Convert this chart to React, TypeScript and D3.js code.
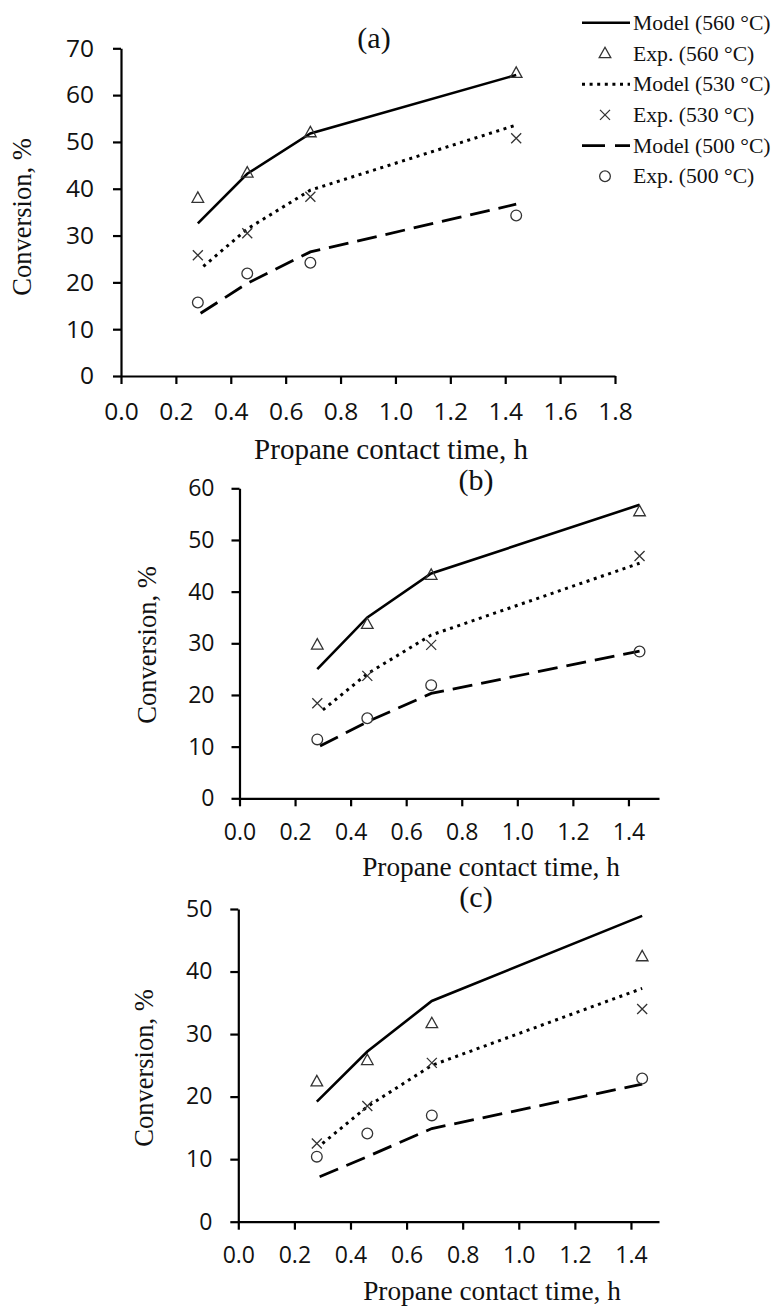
import React, { useEffect, useRef } from "react";
import * as d3 from "d3";

// contact times (h)
const expTimes = [0.28, 0.46, 0.69, 1.44];
const modelTimes560 = [0.28, 0.46, 0.69, 1.44];
const modelTimes530 = [0.3, 0.46, 0.69, 1.44];
const modelTimes500 = [0.29, 0.46, 0.69, 1.44];

// panel (a)
const model560a = [32.6, 43.2, 51.8, 64.3];
const exp560a = [38.0, 43.4, 52.0, 64.7];
const model530a = [23.4, 31.4, 39.7, 53.6];
const exp530a = [25.8, 30.5, 38.3, 50.8];
const model500a = [13.4, 19.8, 26.5, 36.7];
const exp500a = [15.7, 21.9, 24.2, 34.3];

// panel (b)
const model560b = [25.0, 35.0, 43.5, 56.8];
const exp560b = [29.7, 33.7, 43.2, 55.5];
const model530b = [17.1, 24.1, 31.6, 45.5];
const exp530b = [18.4, 23.7, 29.7, 46.9];
const model500b = [10.1, 14.8, 20.3, 28.5];
const exp500b = [11.4, 15.5, 21.9, 28.4];

// panel (c)
const model560c = [19.2, 27.2, 35.3, 48.9];
const exp560c = [22.4, 25.8, 31.7, 42.4];
const model530c = [12.5, 18.4, 25.0, 37.3];
const exp530c = [12.5, 18.5, 25.4, 34.0];
const model500c = [7.2, 10.4, 14.9, 22.0];
const exp500c = [10.4, 14.1, 17.0, 22.9];

// ticks
const xTicksA = [0, 0.2, 0.4, 0.6, 0.8, 1.0, 1.2, 1.4, 1.6, 1.8];
const xTicksBC = [0, 0.2, 0.4, 0.6, 0.8, 1.0, 1.2, 1.4];
const yTicksA = [0, 10, 20, 30, 40, 50, 60, 70];
const yTicksB = [0, 10, 20, 30, 40, 50, 60];
const yTicksC = [0, 10, 20, 30, 40, 50];

const panelLabels = ["(a)", "(b)", "(c)"];
const xTitle = "Propane contact time, h";
const yTitle = "Conversion, %";
const legendLabels = [
  "Model (560 °C)",
  "Exp. (560 °C)",
  "Model (530 °C)",
  "Exp. (530 °C)",
  "Model (500 °C)",
  "Exp. (500 °C)",
];

const SERIF = "'Liberation Serif', 'Times New Roman', serif";
const SANS = "'Open Sans', 'Noto Sans', sans-serif";

const lineStyles: Record<string, { w: number; dash: string | null }> = {
  solid: { w: 2.6, dash: null },
  dot: { w: 3, dash: "3 4.6" },
  dash: { w: 2.8, dash: "20 9" },
};

const markerPath = (kind: string) => {
  if (kind === "tri") return "M0,-6.2L5.8,4.2L-5.8,4.2Z";
  if (kind === "x") return "M-5,-5L5,5M-5,5L5,-5";
  return d3.symbol(d3.symbolCircle, 90)() as string;
};

const panels = [
  {
    label: 0, left: 121, right: 615, top: 48.3, bottom: 376, xMax: 1.8, yMax: 70,
    xTicks: xTicksA, yTicks: yTicksA, tickFont: 24.5, xPad: 19, yPad: 19,
    titleFont: 29, xTitleX: 391, xTitleY: 459, yTitleX: 23, yTitleY: 217,
    labelX: 374, labelY: 48,
    series: [
      [modelTimes560, model560a, exp560a],
      [modelTimes530, model530a, exp530a],
      [modelTimes500, model500a, exp500a],
    ],
  },
  {
    label: 1, left: 239.5, right: 659, top: 488.3, bottom: 798.3, xMax: 1.51, yMax: 60,
    xTicks: xTicksBC, yTicks: yTicksB, tickFont: 23, xPad: 17, yPad: 17,
    titleFont: 27.3, xTitleX: 491, xTitleY: 876, yTitleX: 148, yTitleY: 645,
    labelX: 476, labelY: 490,
    series: [
      [modelTimes560, model560b, exp560b],
      [modelTimes530, model530b, exp530b],
      [modelTimes500, model500b, exp500b],
    ],
  },
  {
    label: 2, left: 238.3, right: 659, top: 909, bottom: 1221.7, xMax: 1.5, yMax: 50,
    xTicks: xTicksBC, yTicks: yTicksC, tickFont: 23, xPad: 17, yPad: 18,
    titleFont: 27.3, xTitleX: 492, xTitleY: 1300, yTitleX: 145, yTitleY: 1068,
    labelX: 476, labelY: 907,
    series: [
      [modelTimes560, model560c, exp560c],
      [modelTimes530, model530c, exp530c],
      [modelTimes500, model500c, exp500c],
    ],
  },
];

const seriesLine = ["solid", "dot", "dash"];
const seriesMarker = ["tri", "x", "circle"];

export default function App() {
  const svgRef = useRef<SVGSVGElement>(null);

  useEffect(() => {
    const svg = d3.select(svgRef.current);
    svg.selectAll("*").remove();

    panels.forEach((p) => {
      const x = d3.scaleLinear().domain([0, p.xMax]).range([p.left, p.right]);
      const y = d3.scaleLinear().domain([0, p.yMax]).range([p.bottom, p.top]);
      const g = svg.append("g");

      // axes
      const ax = g
        .append("g")
        .attr("transform", `translate(0,${p.bottom})`)
        .call(
          d3.axisBottom(x).tickValues(p.xTicks).tickFormat(d3.format(".1f"))
            .tickSize(8).tickSizeOuter(0).tickPadding(p.xPad)
        );
      const ay = g
        .append("g")
        .attr("transform", `translate(${p.left},0)`)
        .call(
          d3.axisLeft(y).tickValues(p.yTicks).tickFormat(d3.format("d"))
            .tickSize(8).tickSizeOuter(0).tickPadding(p.yPad)
        );
      [ax, ay].forEach((a) => {
        a.attr("font-family", SANS).attr("font-size", p.tickFont);
        a.selectAll("path, line").attr("stroke", "#000").attr("stroke-width", 2.2);
        a.selectAll("text").attr("fill", "#111");
      });

      // model lines
      p.series.forEach(([times, model], i) => {
        const st = lineStyles[seriesLine[i]];
        const line = d3.line<number>()
          .x((_, k) => x(times[k]))
          .y((d) => y(d));
        g.append("path")
          .attr("d", line(model as number[]))
          .attr("fill", "none")
          .attr("stroke", "#000")
          .attr("stroke-width", st.w)
          .attr("stroke-dasharray", st.dash);
      });

      // experimental markers
      p.series.forEach(([, , exp], i) => {
        g.selectAll(null)
          .data(exp as number[])
          .join("path")
          .attr("transform", (d, k) => `translate(${x(expTimes[k])},${y(d)})`)
          .attr("d", markerPath(seriesMarker[i]))
          .attr("fill", "none")
          .attr("stroke", "#333")
          .attr("stroke-width", 1.3);
      });

      // titles
      g.append("text")
        .attr("x", p.xTitleX).attr("y", p.xTitleY)
        .attr("text-anchor", "middle")
        .attr("font-family", SERIF).attr("font-size", p.titleFont)
        .attr("fill", "#111")
        .text(xTitle);
      g.append("text")
        .attr("transform", `translate(${p.yTitleX},${p.yTitleY}) rotate(-90)`)
        .attr("dy", "0.3em")
        .attr("text-anchor", "middle")
        .attr("font-family", SERIF).attr("font-size", 26.5)
        .attr("fill", "#111")
        .text(yTitle);
      g.append("text")
        .attr("x", p.labelX).attr("y", p.labelY)
        .attr("text-anchor", "middle")
        .attr("font-family", SERIF).attr("font-size", 30)
        .attr("fill", "#111")
        .text(panelLabels[p.label]);
    });

    // legend
    const lg = svg.append("g");
    legendLabels.forEach((lab, i) => {
      const base = 29.8 + i * 30.7;
      const s = Math.floor(i / 2);
      if (i % 2 === 0) {
        const st = lineStyles[seriesLine[s]];
        lg.append("line")
          .attr("x1", 582).attr("x2", 630)
          .attr("y1", base - 7).attr("y2", base - 7)
          .attr("stroke", "#000").attr("stroke-width", st.w)
          .attr("stroke-dasharray", s === 2 ? "23 10" : st.dash);
      } else {
        lg.append("path")
          .attr("transform", `translate(605,${base - 7})`)
          .attr("d", markerPath(seriesMarker[s]))
          .attr("fill", "none").attr("stroke", "#333").attr("stroke-width", 1.3);
      }
      lg.append("text")
        .attr("x", 633).attr("y", base)
        .attr("font-family", SERIF).attr("font-size", 21.7)
        .attr("fill", "#111")
        .text(lab);
    });
  }, []);

  return (
    <div style={{ position: "absolute", left: 0, top: 0 }}>
      <svg ref={svgRef} width={777} height={1307} style={{ background: "#fff", display: "block" }} />
    </div>
  );
}
